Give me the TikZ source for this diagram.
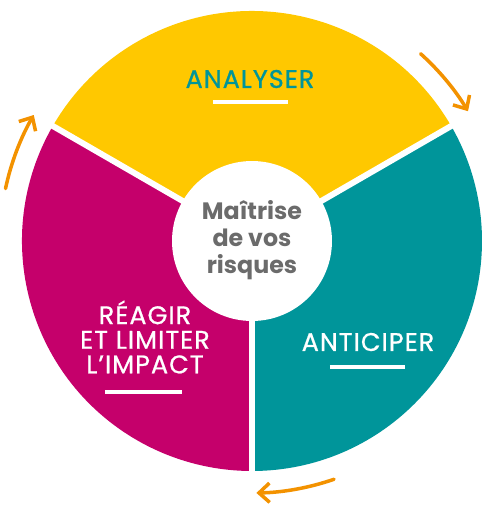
\documentclass[tikz,border=0pt]{standalone}
\usepackage{fontspec}
\setmainfont{Poppins}
\newfontfamily\phasefont{Poppins}[LetterSpace=4, FakeBold=0.8]
\usetikzlibrary{arrows.meta}
\definecolor{mrYellow}{HTML}{FFC800}
\definecolor{mrTeal}{HTML}{00959A}
\definecolor{mrMagenta}{HTML}{C5006B}
\definecolor{mrOrange}{HTML}{F39200}
\definecolor{mrGrey}{HTML}{6B6B6B}
\newcommand{\drawsector}[3]{\fill[#1] (0,0) -- (#2:230) arc[start angle=#2, end angle=#3, radius=230] -- cycle;}
\tikzset{
  phase/.style={font=\phasefont\fontsize{14.5}{14}\selectfont, align=center, inner sep=0pt},
  bar/.style={white, line width=1.8pt},
  gap/.style={white, line width=3.4pt},
  turn/.style={mrOrange, line width=2pt, line cap=round, -{Straight Barb[length=6pt, width=11pt]}}
}
\begin{document}
\begin{tikzpicture}[x=0.02cm, y=0.02cm]
  \useasboundingbox (-252,-264) rectangle (248,241);
  % three phases
  \drawsector{mrYellow}{30}{150}
  \drawsector{mrTeal}{-90}{30}
  \drawsector{mrMagenta}{150}{270}
  \foreach \a in {30,150,270}
    \draw[gap] (0,0) -- (\a:236);
  \node[circle, fill=white, minimum size=3.2cm] (core) at (0,0) {};
  \node[font=\bfseries\fontsize{13.5}{15.5}\selectfont, text=mrGrey, align=center] (title) at (0,1)
    {Maîtrise\\de vos\\risques};
  % labels
  \node[phase, text=mrTeal] (analyser) at (-2,162) {ANALYSER};
  \draw[bar] (-39,139) -- (36,139);
  \node[phase, text=white] (anticiper) at (116,-101) {ANTICIPER};
  \draw[bar] (78,-126) -- (153,-126);
  \node[phase, text=white] (reagir) at (-107,-96) {RÉAGIR\\ET LIMITER\\L’IMPACT};
  \draw[bar] (-147,-151) -- (-70,-151);
  % cycle arrows
  \foreach \s/\e [count=\i] in {48/31, -71/-89, 168/150} {
    \coordinate (turn\i) at (\s:252);
    \draw[turn] (turn\i) arc[start angle=\s, end angle=\e, radius=252];
  }
\end{tikzpicture}
\end{document}
